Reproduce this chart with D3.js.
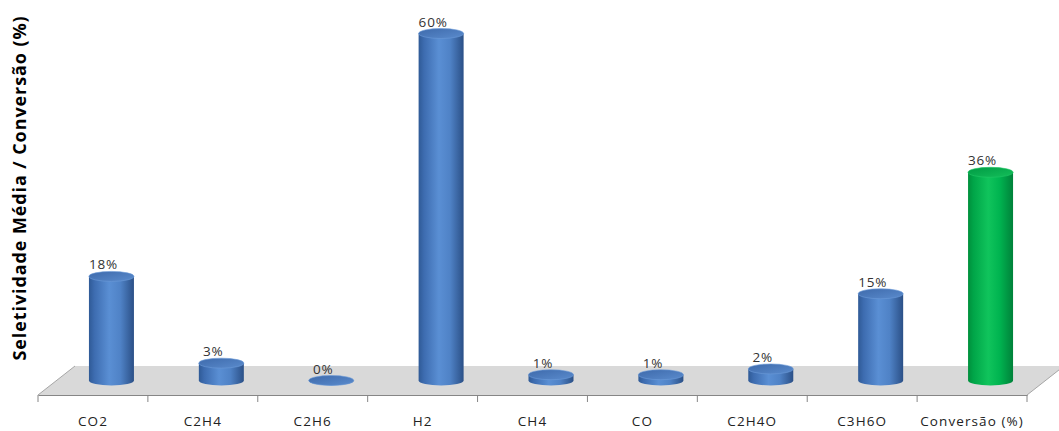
<!DOCTYPE html>
<html>
<head>
<meta charset="utf-8">
<script src="https://cdn.jsdelivr.net/npm/d3@7"></script>
<style>
  html, body { margin: 0; padding: 0; background: #ffffff; }
  svg { display: block; }
</style>
</head>
<body>
<svg id="chart" width="1059" height="431"></svg>
<script>
// Categories and values (%)
const categories = ["CO2", "C2H4", "C2H6", "H2", "CH4", "CO", "C2H4O", "C3H6O", "Conversão (%)"];
const values = [18, 3, 0, 60, 1, 1, 2, 15, 36];
const valueLabels = ["18%", "3%", "0%", "60%", "1%", "1%", "2%", "15%", "36%"];
const seriesKind = ["sel", "sel", "sel", "sel", "sel", "sel", "sel", "sel", "conv"];
const yTitle = "Seletividade Média / Conversão (%)";

const W = 1059, H = 431;
const svg = d3.select("#chart");
const FONT = "'Open Sans', sans-serif";

// Floor geometry (oblique projection)
const frontY = 395;
const depthX = 37, depthY = -29;
const x = d3.scaleBand().domain(categories).range([38, 1027]).padding(0);
const h = d3.scaleLinear().domain([0, 60]).range([0, 347]);

const baseY = frontY + depthY / 2;
const rx = 22.5, ry = 5;

const defs = svg.append("defs");
function bodyGrad(id, stops) {
  const g = defs.append("linearGradient").attr("id", id)
    .attr("x1", "0%").attr("x2", "100%").attr("y1", "0%").attr("y2", "0%");
  stops.forEach(s => g.append("stop").attr("offset", s[0]).attr("stop-color", s[1]));
}
bodyGrad("blueBody", [["0%", "#2f5a96"], ["12%", "#3d6cb0"], ["45%", "#5a8fd4"], ["70%", "#4f82c6"], ["100%", "#2b5087"]]);
bodyGrad("greenBody", [["0%", "#008f3c"], ["12%", "#00a548"], ["45%", "#10c45c"], ["70%", "#00b450"], ["100%", "#00823a"]]);
function topGrad(id, a, b) {
  const g = defs.append("linearGradient").attr("id", id)
    .attr("x1", "0%").attr("x2", "100%").attr("y1", "0%").attr("y2", "100%");
  g.append("stop").attr("offset", "0%").attr("stop-color", a);
  g.append("stop").attr("offset", "100%").attr("stop-color", b);
}
topGrad("blueTop", "#3e6aab", "#5a8bcd");
topGrad("greenTop", "#009a44", "#14bf5a");

// Floor
const x0 = x.range()[0], x1 = x.range()[1];
svg.append("path")
  .attr("d", `M${x0},${frontY} L${x0 + depthX},${frontY + depthY} L${x1 + depthX},${frontY + depthY} L${x1},${frontY} Z`)
  .attr("fill", "#d9d9d9");
svg.append("line")
  .attr("x1", x0).attr("y1", frontY).attr("x2", x0 + depthX).attr("y2", frontY + depthY)
  .attr("stroke", "#a6a6a6").attr("stroke-width", 1);
svg.append("line")
  .attr("x1", x1).attr("y1", frontY).attr("x2", x1 + depthX).attr("y2", frontY + depthY)
  .attr("stroke", "#a6a6a6").attr("stroke-width", 1);

// Category axis along the front edge of the floor
const axis = d3.axisBottom(x).tickSize(0).tickPadding(21);
const gx = svg.append("g").attr("transform", `translate(0,${frontY})`).call(axis);
gx.select(".domain").attr("stroke", "#868686");
gx.selectAll(".tick text")
  .attr("font-family", FONT).attr("font-size", 13.5).attr("letter-spacing", 1.1)
  .attr("fill", "#222");
// Tick marks at category boundaries
const bounds = categories.map(c => x(c)).concat([x1]);
svg.append("g").selectAll("line").data(bounds).join("line")
  .attr("x1", d => d).attr("x2", d => d)
  .attr("y1", frontY).attr("y2", frontY + 7)
  .attr("stroke", "#868686");

// Cylinders
const bars = svg.append("g").selectAll("g").data(values).join("g");
bars.each(function (v, i) {
  const g = d3.select(this);
  const cx = x(categories[i]) + x.bandwidth() / 2 + depthX / 2;
  const ty = baseY - h(v);
  const conv = seriesKind[i] === "conv";
  g.append("path")
    .attr("d", `M${cx - rx},${ty} L${cx - rx},${baseY} A${rx},${ry} 0 0 0 ${cx + rx},${baseY} L${cx + rx},${ty} Z`)
    .attr("fill", conv ? "url(#greenBody)" : "url(#blueBody)");
  g.append("ellipse")
    .attr("cx", cx).attr("cy", ty).attr("rx", rx).attr("ry", ry)
    .attr("fill", conv ? "url(#greenTop)" : "url(#blueTop)")
    .attr("stroke", conv ? "#22c866" : "#6b9ad8").attr("stroke-width", 0.6);
  g.append("text")
    .attr("x", cx - 8).attr("y", ty - ry - 2)
    .attr("text-anchor", "middle")
    .attr("font-family", FONT).attr("font-size", 13.5).attr("letter-spacing", 0.8)
    .attr("fill", "#333")
    .text(valueLabels[i]);
});

// Y axis title
svg.append("text")
  .attr("transform", `translate(26,188) rotate(-90)`)
  .attr("text-anchor", "middle")
  .attr("font-family", FONT).attr("font-size", 18).attr("font-weight", "bold")
  .attr("letter-spacing", 0.9)
  .attr("fill", "#000")
  .text(yTitle);
</script>
</body>
</html>
